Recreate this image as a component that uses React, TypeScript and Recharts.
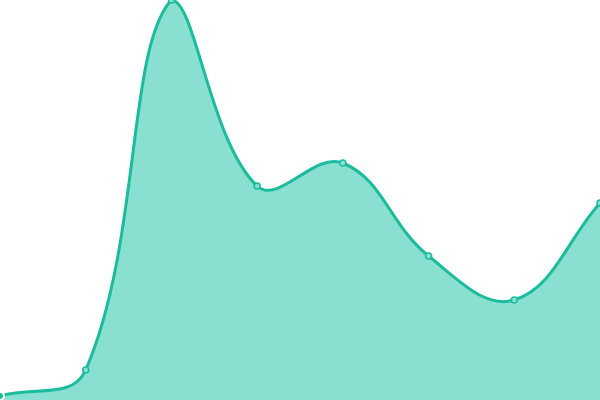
import React from 'react';
import { AreaChart, Area, XAxis, YAxis } from 'recharts';

const categories = ['A', 'B', 'C', 'D', 'E', 'F', 'G', 'H'];
const values = [4, 30, 400, 214, 237, 144, 100, 197];

const data = categories.map((name, i) => ({ name, value: values[i] }));

const AREA = { left: 0, right: 600, top: 0, bottom: 400 };
const TENSION = 0.4;

function cap(v: number, lo: number, hi: number) {
  return Math.max(lo, Math.min(hi, v));
}

class SplineCurve {
  _context: any;
  _line: number = NaN;
  _pts: number[][] = [];
  constructor(context: any) {
    this._context = context;
  }
  areaStart() {
    this._line = 0;
  }
  areaEnd() {
    this._line = NaN;
  }
  lineStart() {
    this._pts = [];
  }
  point(x: number, y: number) {
    this._pts.push([+x, +y]);
  }
  lineEnd() {
    const ctx = this._context;
    const pts = this._pts;
    const n = pts.length;
    if (n) {
      if (this._line) ctx.lineTo(pts[0][0], pts[0][1]);
      else ctx.moveTo(pts[0][0], pts[0][1]);
      if (n > 1) {
        const cps: { px: number; py: number; nx: number; ny: number }[] = [];
        for (let i = 0; i < n; i++) {
          const prev = pts[Math.max(i - 1, 0)];
          const cur = pts[i];
          const next = pts[Math.min(i + 1, n - 1)];
          const d01 = Math.hypot(cur[0] - prev[0], cur[1] - prev[1]);
          const d12 = Math.hypot(next[0] - cur[0], next[1] - cur[1]);
          let s01 = d01 / (d01 + d12);
          let s12 = d12 / (d01 + d12);
          if (isNaN(s01)) s01 = 0;
          if (isNaN(s12)) s12 = 0;
          const fa = TENSION * s01;
          const fb = TENSION * s12;
          let px = cur[0] - fa * (next[0] - prev[0]);
          let py = cur[1] - fa * (next[1] - prev[1]);
          let nx = cur[0] + fb * (next[0] - prev[0]);
          let ny = cur[1] + fb * (next[1] - prev[1]);
          px = cap(px, AREA.left, AREA.right);
          nx = cap(nx, AREA.left, AREA.right);
          py = cap(py, AREA.top, AREA.bottom);
          ny = cap(ny, AREA.top, AREA.bottom);
          cps.push({ px, py, nx, ny });
        }
        for (let i = 1; i < n; i++) {
          ctx.bezierCurveTo(cps[i - 1].nx, cps[i - 1].ny, cps[i].px, cps[i].py, pts[i][0], pts[i][1]);
        }
      }
    }
    if (this._line || (this._line !== 0 && n === 1)) ctx.closePath();
    this._line = 1 - this._line;
  }
}

const splineFactory: any = (context: any) => new SplineCurve(context);

export default function App() {
  return (
    <div style={{ position: 'absolute', left: 0, top: 0, width: 600, height: 400 }}>
      <AreaChart width={600} height={400} data={data} margin={{ top: 0, right: 0, bottom: 0, left: 0 }}>
        <XAxis dataKey="name" hide />
        <YAxis hide domain={[0, 400]} allowDataOverflow />
        <Area
          type={splineFactory}
          dataKey="value"
          stroke="#1abc9c"
          strokeWidth={3}
          fill="#8ae0d0"
          fillOpacity={1}
          dot={{ r: 3, fill: '#8ae0d0', stroke: '#1abc9c', strokeWidth: 1.5 }}
          isAnimationActive={false}
        />
      </AreaChart>
    </div>
  );
}
